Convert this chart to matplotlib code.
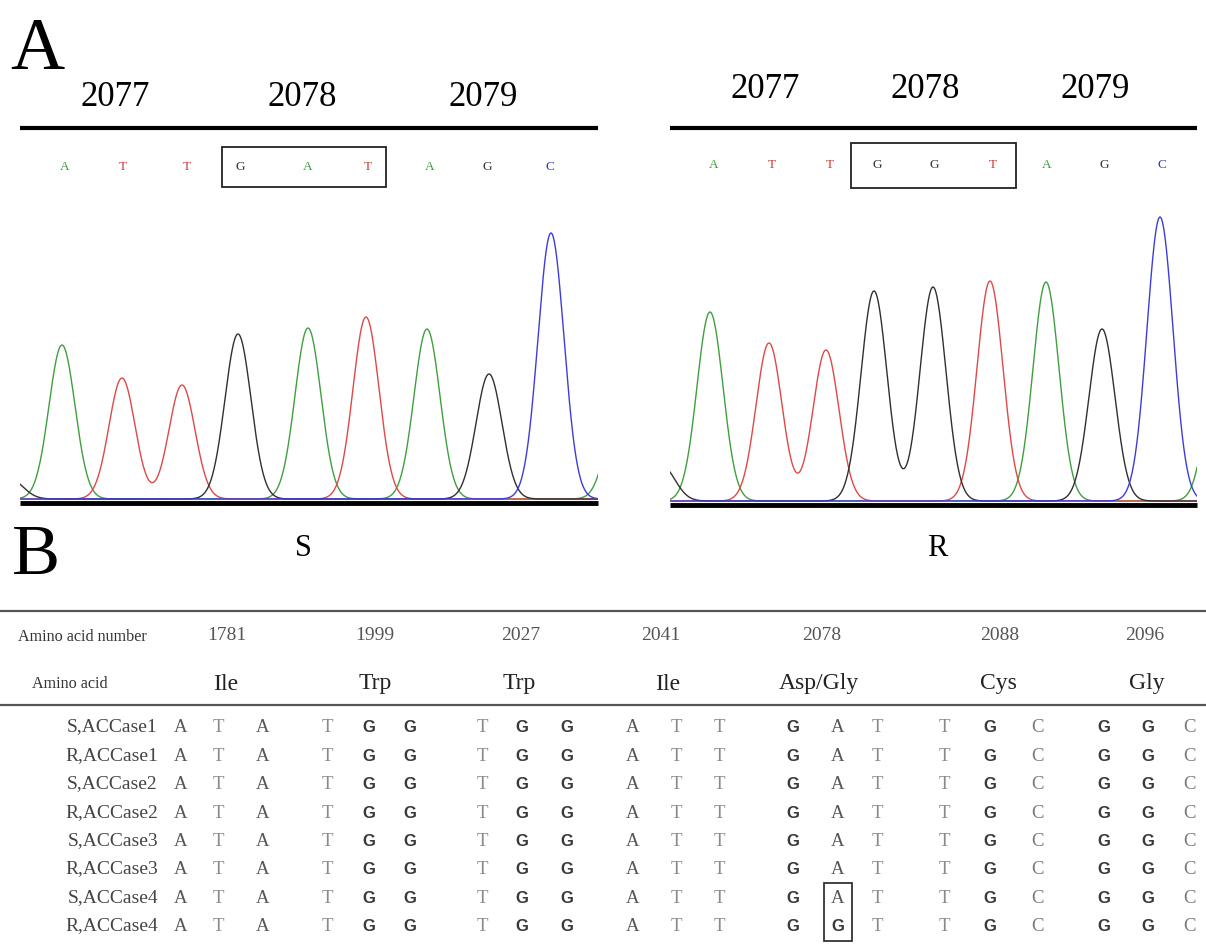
import numpy as np
import matplotlib
matplotlib.use("Agg")
import matplotlib.pyplot as plt
from matplotlib.patches import Rectangle

W, H = 1206, 950
SERIF = ["Liberation Serif", "DejaVu Serif"]
SANS = ["Liberation Sans", "DejaVu Sans"]

# --- data -------------------------------------------------------------
codon_positions = ["2077", "2078", "2079"]
calls_s = "ATTGATAGC"
calls_r = "ATTGGTAGC"

# peaks: position (scan units), height, base
peaks_s_pos = [-10, 42, 102, 162, 218, 288, 346, 407, 469, 531, 600]
peaks_s_h = [20, 154, 121, 114, 165, 171, 182, 170, 125, 266, 100]
peaks_s_base = ["G", "A", "T", "T", "G", "A", "T", "A", "G", "C", "A"]

peaks_r_pos = [-8, 40, 99, 156, 204, 263, 320, 376, 432, 490, 550]
peaks_r_h = [35, 189, 158, 151, 210, 214, 220, 219, 172, 284, 160]
peaks_r_base = ["G", "A", "T", "T", "G", "G", "T", "A", "G", "C", "A"]

aa_numbers = ["1781", "1999", "2027", "2041", "2078", "2088", "2096"]
amino_acids = ["Ile", "Trp", "Trp", "Ile", "Asp/Gly", "Cys", "Gly"]
samples = ["S,ACCase1", "R,ACCase1", "S,ACCase2", "R,ACCase2",
           "S,ACCase3", "R,ACCase3", "S,ACCase4", "R,ACCase4"]
codons_ref = ["ATA", "TGG", "TGG", "ATT", "GAT", "TGC", "GGC"]
codons_mut = ["ATA", "TGG", "TGG", "ATT", "GGT", "TGC", "GGC"]
sample_codons = [codons_ref] * 7 + [codons_mut]

trace_col = {"A": "#3f9f3f", "T": "#e04848", "G": "#303030", "C": "#3c3cdc"}
call_col = {"A": "#3c9a3c", "T": "#d03a3a", "G": "#333333", "C": "#3434c8"}

fig = plt.figure(figsize=(W / 100, H / 100), dpi=100)
ax = fig.add_axes([0, 0, 1, 1])
ax.set_xlim(0, W)
ax.set_ylim(H, 0)
ax.axis("off")


def chromatogram(x0, x1, base_y, pos, hts, bases):
    cax = fig.add_axes([x0 / W, (H - base_y - 11) / H, (x1 - x0) / W, 315 / H])
    cax.set_xlim(0, x1 - x0)
    cax.set_ylim(-11, 304)
    cax.axis("off")
    xs = np.linspace(-30, x1 - x0 + 30, 2000)
    sig = 13
    for b in "ATGC":
        y = np.zeros_like(xs)
        for p, h, bb in zip(pos, hts, bases):
            if bb == b:
                y += h * np.exp(-(xs - p) ** 2 / (2 * sig ** 2))
        cax.plot(xs, y, color=trace_col[b], lw=1.0)


# panel letters
ax.text(10, 69, "A", fontsize=54, family=SERIF, ha="left", va="baseline")
ax.text(12, 574, "B", fontsize=52, family=SERIF, ha="left", va="baseline")

panels = [
    dict(x0=20, x1=598, top=128, base=503, num_x=[115, 302, 483], num_y=97,
         calls=calls_s, call_x=[65, 123, 187, 240, 308, 368, 430, 487, 550],
         call_y=167, box=(222, 147, 164, 40), label="S", lab_x=303,
         pk=(peaks_s_pos, peaks_s_h, peaks_s_base)),
    dict(x0=670, x1=1197, top=128, base=505, num_x=[765, 925, 1095], num_y=90,
         calls=calls_r, call_x=[714, 772, 830, 877, 934, 993, 1047, 1104, 1162],
         call_y=165, box=(851, 143, 165, 45), label="R", lab_x=937,
         pk=(peaks_r_pos, peaks_r_h, peaks_r_base)),
]

for p in panels:
    for t, x in zip(codon_positions, p["num_x"]):
        ax.text(x, p["num_y"], t, fontsize=25, family=SERIF, ha="center", va="center")
    ax.plot([p["x0"], p["x1"]], [p["top"], p["top"]], color="black", lw=3, solid_capstyle="butt")
    for b, x in zip(p["calls"], p["call_x"]):
        ax.text(x, p["call_y"], b, fontsize=9.5, family=SERIF, color=call_col[b],
                ha="center", va="center")
    bx, by, bw, bh = p["box"]
    ax.add_patch(Rectangle((bx, by), bw, bh, fill=False, ec="#222222", lw=1.3))
    ax.plot([p["x0"], p["x1"]], [p["base"], p["base"]], color="black", lw=3.5,
            solid_capstyle="butt", zorder=5)
    ax.text(p["lab_x"], 548, p["label"], fontsize=22, family=SERIF, ha="center", va="center")
    chromatogram(p["x0"], p["x1"], p["base"] - 4, *p["pk"])

# panel B table
ax.plot([0, W], [611, 611], color="#555555", lw=1.6)
ax.plot([0, W], [705, 705], color="#555555", lw=1.6)
ax.text(18, 637, "Amino acid number", fontsize=11.6, family=SERIF, color="#333333",
        ha="left", va="center")
ax.text(32, 684, "Amino acid", fontsize=11.6, family=SERIF, color="#333333",
        ha="left", va="center")

num_x = [227, 375, 521, 661, 822, 1000, 1145]
aa_x = [226, 375, 519, 668, 819, 998, 1147]
for t, x in zip(aa_numbers, num_x):
    ax.text(x, 636, t, fontsize=14, family=SERIF, color="#555555", ha="center", va="center")
for t, x in zip(amino_acids, aa_x):
    ax.text(x, 684, t, fontsize=17, family=SERIF, color="#222222", ha="center", va="center")

letter_x = [[181, 218, 263], [327, 369, 410], [482, 522, 567], [633, 676, 719],
            [793, 838, 877], [944, 990, 1037], [1104, 1148, 1190]]
row_y = [727 + 28.4 * i for i in range(len(samples))]
letter_style = {"A": dict(family=SERIF, color="#555555", weight="normal"),
                "T": dict(family=SERIF, color="#8a8a8a", weight="normal"),
                "C": dict(family=SERIF, color="#7a7a7a", weight="normal"),
                "G": dict(family=SANS, color="#3a3a3a", weight="bold")}

for name, cods, y in zip(samples, sample_codons, row_y):
    ax.text(158, y, name, fontsize=14, family=SERIF, color="#444444", ha="right", va="center")
    for cod, xs in zip(cods, letter_x):
        for b, x in zip(cod, xs):
            st = letter_style[b]
            ax.text(x, y + 1, b, fontsize=13.5 if b != "G" else 12, ha="center", va="center", **st)

ax.add_patch(Rectangle((824, row_y[6] - 14), 28, 58, fill=False, ec="#333333", lw=1.3))

fig.savefig("out.png", dpi=100)
